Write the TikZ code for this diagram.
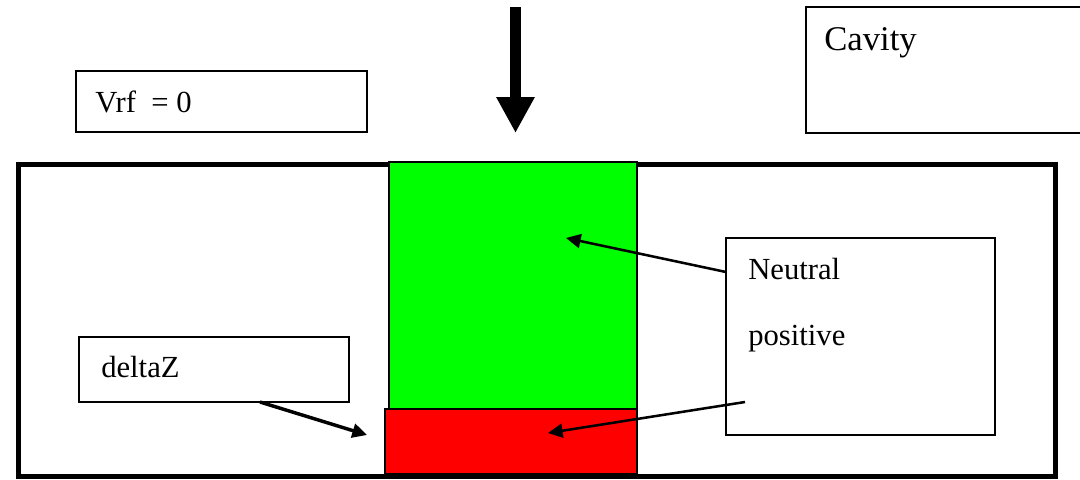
\documentclass[tikz,border=0pt]{standalone}
\usepackage{fontspec}
\setmainfont{Liberation Serif}
\usetikzlibrary{arrows.meta,fit}
\definecolor{layergreen}{RGB}{0,255,0}
\definecolor{layerred}{RGB}{255,0,0}
\begin{document}
\begin{tikzpicture}[x=0.75pt,y=-0.75pt,
  labelbox/.style={draw=black, line width=1.1pt, inner sep=0pt},
  wall/.style={draw=black, line width=3.75pt, inner sep=0pt},
  layer/.style={draw=black, line width=0.8pt, inner sep=0pt},
  txt/.style={anchor=base west, inner sep=0pt, font=\fontsize{23}{27}\selectfont},
  pointer/.style={line width=1.9pt, -{Triangle[length=11pt,width=10.5pt]}},
  thickpointer/.style={line width=2.6pt, -{Triangle[length=11pt,width=10.5pt]}},
  beam/.style={line width=8.25pt, -{Triangle[length=27pt,width=27pt]}},
]
\useasboundingbox (0,0) rectangle (1080,479);
\clip (0,0) rectangle (1080,479);

% cavity wall and the two layers inside it
\node[wall, fit={(18.5,164.5)(1055,476.5)}] (cavitywall) {};
\node[layer, fill=layergreen, fit={(389,162)(637,409)}] (neutral) {};
\node[layer, fill=layerred, fit={(385,409)(637,474)}] (positive) {};

% incoming beam
\coordinate (beamtop) at (515.5,7);
\coordinate (beamtip) at (515.5,133);
\draw[beam] (beamtop) -- (beamtip);

% label boxes
\node[labelbox, fit={(76,71)(367,132)}] (vrfbox) {};
\node[labelbox, fit={(806,7)(1090,133)}] (cavitybox) {};
\node[labelbox, fit={(79,337)(349,402)}] (deltabox) {};
\node[labelbox, fit={(726,238)(995,435)}] (chargebox) {};

% texts
\node[txt] (vrftxt) at (95,112) {Vrf\ \ = 0};
\node[txt, font=\fontsize{26}{30}\selectfont] (cavitytxt) at (824,50) {Cavity};
\node[txt] (deltatxt) at (101,377) {deltaZ};
\node[txt] (neutraltxt) at (748,279) {Neutral};
\node[txt] (positivetxt) at (748,345) {positive};

% pointers
\coordinate (neutralfrom) at (726,272);
\coordinate (neutralto) at (566,238);
\coordinate (positivefrom) at (745,402);
\coordinate (positiveto) at (548,433);
\coordinate (deltafrom) at (260,402);
\coordinate (deltato) at (367,435);
\draw[pointer] (neutralfrom) -- (neutralto);
\draw[pointer] (positivefrom) -- (positiveto);
\draw[thickpointer] (deltafrom) -- (deltato);
\end{tikzpicture}
\end{document}
